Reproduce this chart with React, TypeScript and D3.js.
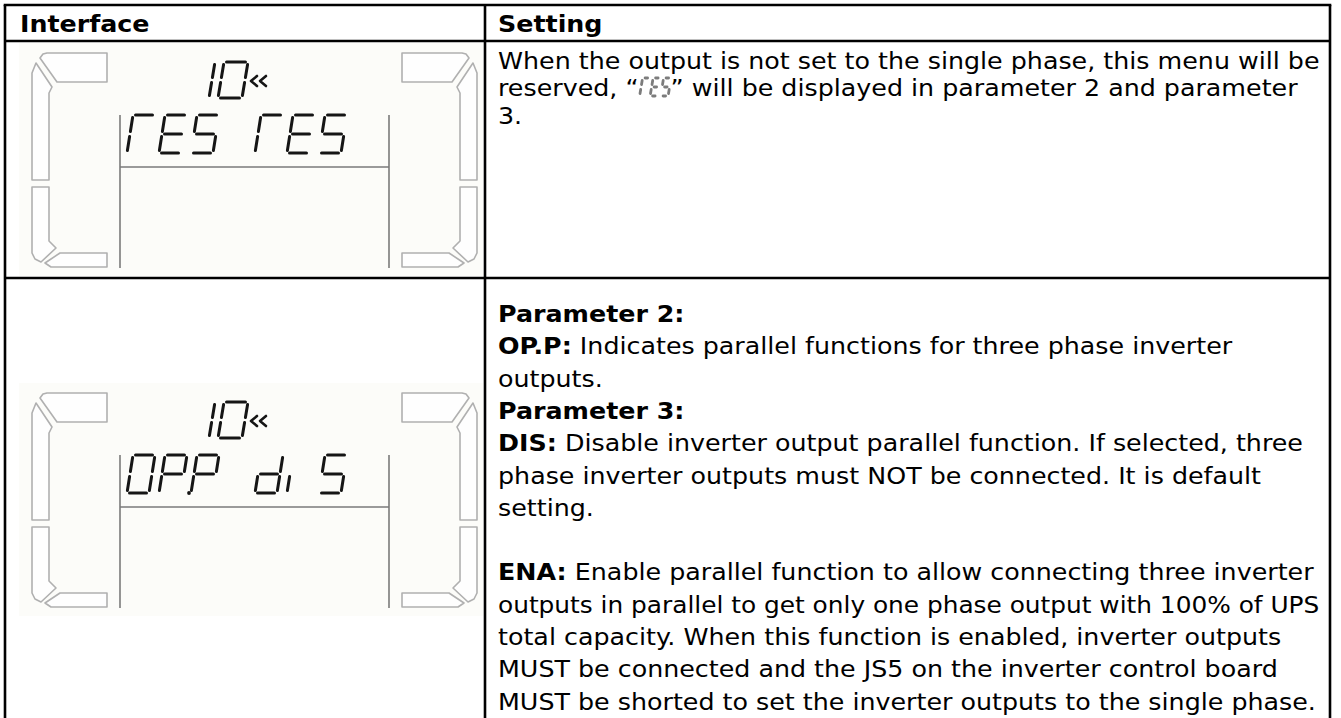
import React, { useEffect, useRef } from "react";
import * as d3 from "d3";

// ---------- content ----------
const headers = ["Interface", "Setting"];

type Run = { t?: string; b?: boolean; g?: string };

const row1Lines: Run[][] = [
  [{ t: "When the output is not set to the single phase, this menu will be" }],
  [{ t: "reserved, \u201C" }, { g: "rES" }, { t: "\u201D will be displayed in parameter 2 and parameter" }],
  [{ t: "3." }],
];

const row2Lines: Run[][] = [
  [{ t: "Parameter 2:", b: true }],
  [{ t: "OP.P:", b: true }, { t: " Indicates parallel functions for three phase inverter" }],
  [{ t: "outputs." }],
  [{ t: "Parameter 3:", b: true }],
  [{ t: "DIS:", b: true }, { t: " Disable inverter output parallel function. If selected, three" }],
  [{ t: "phase inverter outputs must NOT be connected. It is default" }],
  [{ t: "setting." }],
  [],
  [{ t: "ENA:", b: true }, { t: " Enable parallel function to allow connecting three inverter" }],
  [{ t: "outputs in parallel to get only one phase output with 100% of UPS" }],
  [{ t: "total capacity. When this function is enabled, inverter outputs" }],
  [{ t: "MUST be connected and the JS5 on the inverter control board" }],
  [{ t: "MUST be shorted to set the inverter outputs to the single phase." }],
];

const lcdTopText = ["10", "10"];
const lcdMainText = ["rES rES", "OPP diS"];
const lcdDots: number[][] = [[], [1]];

// seven-segment character map
const SEG: Record<string, string> = {
  "0": "abcdef",
  "1": "bc",
  r: "aef",
  E: "adefg",
  S: "acdfg",
  O: "abcdef",
  P: "abefg",
  d: "bcdeg",
  i: "e",
  " ": "",
};

// LCD frame outline shapes (left side; right side mirrored)
const leftShapes: [number, number][][] = [
  [[24, 11], [28, 10], [88, 10], [88, 39], [38, 39], [21, 15]],
  [[13, 30], [17, 20], [33, 44], [30, 50], [30, 137], [13, 137]],
  [[13, 144], [30, 144], [30, 198], [37, 205], [22, 219], [16, 216], [13, 210]],
  [[41, 210], [88, 210], [88, 224], [32, 224], [26, 220]],
];

// ---------- layout ----------
const W = 1341;
const H = 718;
const TBL = { left: 5, right: 1330, top: 5, headBottom: 41, rowDiv: 278, colDiv: 485 };
const FS = 23;
const FAM = "'DejaVu Sans', Verdana, Tahoma, sans-serif";
const TEXT_X = 498;
const TEXT_MAX = 822;

function segEnds(s: string, w: number, h: number): [number, number][] {
  const g = 2.5;
  const m = h / 2;
  switch (s) {
    case "a": return [[g, 0], [w - g, 0]];
    case "b": return [[w, g], [w, m - g]];
    case "c": return [[w, m + g], [w, h - g]];
    case "d": return [[g, h], [w - g, h]];
    case "e": return [[0, m + g], [0, h - g]];
    case "f": return [[0, g], [0, m - g]];
    default: return [[g, m], [w - g, m]];
  }
}

export default function App() {
  const ref = useRef<SVGSVGElement | null>(null);

  useEffect(() => {
    const svg = d3.select(ref.current as SVGSVGElement);
    svg.selectAll("*").remove();

    svg.append("rect").attr("width", W).attr("height", H).attr("fill", "#ffffff");

    const line = d3.line<[number, number]>();

    const drawChar = (
      g: d3.Selection<SVGGElement, unknown, null, undefined>,
      ch: string, x0: number, y0: number, w: number, h: number, sl: number,
      color: string, sw: number, gap = 2.5
    ) => {
      const segs = SEG[ch] ?? "";
      segs.split("").forEach((s) => {
        const raw = segEnds(s, w, h);
        const pts = raw.map(([u, v]) => {
          let uu = u;
          let vv = v;
          if (u !== 0 && u !== w) uu = Math.min(Math.max(u, gap), w - gap);
          if (v !== 0 && v !== h && v !== h / 2) {
            vv = v < h / 2 ? Math.min(Math.max(v, gap), h / 2 - gap) : Math.min(Math.max(v, h / 2 + gap), h - gap);
          }
          return [x0 + uu + sl * (1 - vv / h), y0 + vv] as [number, number];
        });
        g.append("path").attr("d", line(pts)!).attr("stroke", color).attr("stroke-width", sw)
          .attr("stroke-linecap", "round").attr("fill", "none");
      });
    };

    // ---- LCD images ----
    const lcdTops = [43, 383];
    const ox = 19;
    const lw = 464;
    const lh = 233;
    lcdTops.forEach((top, k) => {
      const g = svg.append("g").attr("transform", `translate(${ox},${top})`);
      g.append("rect").attr("width", lw).attr("height", lh).attr("fill", "#fcfcf9");
      const outline = d3.line<[number, number]>().curve(d3.curveLinearClosed);
      leftShapes.forEach((shape) => {
        g.append("path").attr("d", outline(shape)!).attr("fill", "#fefefe")
          .attr("stroke", "#b0b0b0").attr("stroke-width", 1.6).attr("stroke-linejoin", "round");
        const mir = shape.map(([x, y]) => [471 - x, y] as [number, number]);
        g.append("path").attr("d", outline(mir)!).attr("fill", "#fefefe")
          .attr("stroke", "#b0b0b0").attr("stroke-width", 1.6).attr("stroke-linejoin", "round");
      });
      // screen lines
      g.append("line").attr("x1", 101).attr("x2", 101).attr("y1", 72).attr("y2", 225)
        .attr("stroke", "#7a7a7a").attr("stroke-width", 1.6);
      g.append("line").attr("x1", 370).attr("x2", 370).attr("y1", 72).attr("y2", 225)
        .attr("stroke", "#7a7a7a").attr("stroke-width", 1.6);
      g.append("line").attr("x1", 101).attr("x2", 370).attr("y1", 124).attr("y2", 124)
        .attr("stroke", "#7a7a7a").attr("stroke-width", 1.6);
      // top number
      lcdTopText[k].split("").forEach((ch, i) => {
        drawChar(g, ch, 166 + i * 33, 19, 24, 36, 6, "#151515", 3.0);
      });
      // chevrons
      [231, 240].forEach((cx) => {
        g.append("path").attr("d", line([[cx + 7, 33], [cx + 1, 38], [cx + 7, 43]])!)
          .attr("stroke", "#151515").attr("stroke-width", 2.6).attr("fill", "none")
          .attr("stroke-linecap", "round").attr("stroke-linejoin", "round");
      });
      // main text
      lcdMainText[k].split("").forEach((ch, i) => {
        drawChar(g, ch, 108 + i * 32, 72, 22, 38, 6, "#151515", 3.0);
      });
      lcdDots[k].forEach((i) => {
        g.append("circle").attr("cx", 108 + i * 32 + 30).attr("cy", 110).attr("r", 1.9).attr("fill", "#151515");
      });
    });

    // ---- text ----
    const probe = svg.append("text").attr("font-family", FAM).attr("font-size", FS)
      .text(row1Lines[0][0].t as string);
    const natural = (probe.node() as SVGTextElement).getComputedTextLength();
    probe.remove();
    const sx0 = TEXT_MAX / natural;

    const drawRuns = (runs: Run[], x: number, y: number) => {
      const grp = svg.append("g");
      const widths: number[] = runs.map((r) => {
        if (r.g) return 32 / sx0;
        const t = grp.append("text").attr("font-family", FAM).attr("font-size", FS)
          .attr("font-weight", r.b ? 700 : 400).style("white-space", "pre").text(r.t as string);
        const wv = (t.node() as SVGTextElement).getComputedTextLength();
        t.remove();
        return wv;
      });
      const total = d3.sum(widths) * sx0;
      const sx = total > TEXT_MAX ? sx0 * (TEXT_MAX / total) : sx0;
      let cx = x;
      runs.forEach((r, i) => {
        if (r.g) {
          r.g.split("").forEach((ch, j) => {
            drawChar(grp, ch, cx + 1 + j * 10.5, y - 18, 7.5, 18, 3, "#7c7c7c", 2.8, 1.0);
          });
          cx += widths[i] * sx;
          return;
        }
        grp.append("text")
          .attr("transform", `translate(${cx},${y}) scale(${sx},1)`)
          .attr("font-family", FAM).attr("font-size", FS)
          .attr("font-weight", r.b ? 700 : 400)
          .attr("fill", "#000")
          .style("white-space", "pre")
          .text(r.t as string);
        cx += widths[i] * sx;
      });
    };

    drawRuns([{ t: headers[0], b: true }], 20, 32);
    drawRuns([{ t: headers[1], b: true }], TEXT_X, 32);

    const r1y = d3.scaleLinear().domain([0, 1]).range([68.5, 96]);
    row1Lines.forEach((runs, i) => drawRuns(runs, TEXT_X, r1y(i)));

    const r2y = d3.scaleLinear().domain([0, 1]).range([322, 354.3]);
    row2Lines.forEach((runs, i) => drawRuns(runs, TEXT_X, r2y(i)));

    // ---- table borders ----
    const bw = 2.6;
    const bl = svg.append("g").attr("stroke", "#000").attr("stroke-width", bw);
    bl.append("line").attr("x1", TBL.left - 1.3).attr("x2", TBL.right + 1.3).attr("y1", TBL.top).attr("y2", TBL.top);
    bl.append("line").attr("x1", TBL.left).attr("x2", TBL.right).attr("y1", TBL.headBottom).attr("y2", TBL.headBottom);
    bl.append("line").attr("x1", TBL.left).attr("x2", TBL.right).attr("y1", TBL.rowDiv).attr("y2", TBL.rowDiv);
    bl.append("line").attr("x1", TBL.left).attr("x2", TBL.left).attr("y1", TBL.top).attr("y2", H + 5);
    bl.append("line").attr("x1", TBL.right).attr("x2", TBL.right).attr("y1", TBL.top).attr("y2", H + 5);
    bl.append("line").attr("x1", TBL.colDiv).attr("x2", TBL.colDiv).attr("y1", TBL.top).attr("y2", H + 5);
  }, []);

  return (
    <svg
      ref={ref}
      width={W}
      height={H}
      style={{ position: "absolute", left: 0, top: 0, display: "block" }}
    />
  );
}
